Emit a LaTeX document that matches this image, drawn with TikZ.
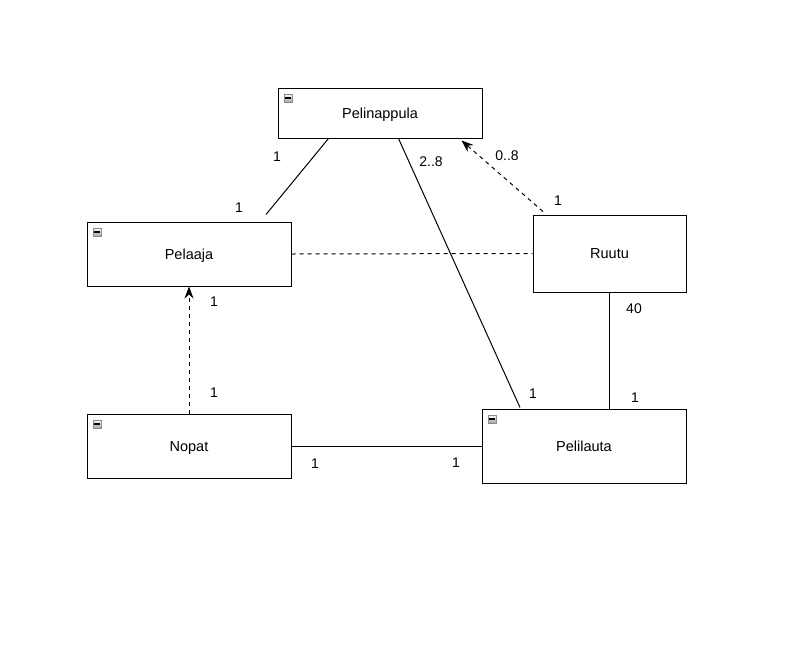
\documentclass[tikz,border=0pt]{standalone}
\usepackage{fontspec}
\setmainfont{Liberation Sans}
\usetikzlibrary{arrows.meta,calc}
\tikzset{
  classbox/.style={draw, line width=1pt, fill=white, inner sep=0pt, text depth=0pt, font=\fontsize{14.5}{17}\selectfont},
  assoc/.style={line width=1pt},
  dep/.style={line width=1pt, dash pattern=on 4pt off 4pt},
  deparrow/.style={dep, -{Stealth[length=12pt,width=9pt,inset=4pt]}},
  mult/.style={font=\fontsize{14}{16}\selectfont, inner sep=0pt},
  iconbox/.style={draw=black!45, line width=0.6pt, top color=white, bottom color=black!35, minimum size=8pt, inner sep=0pt}
}
% small collapse icon in the upper left corner of a class box
\newcommand{\collapseicon}[2]{%
  \node[iconbox, anchor=north west] (#2) at ($(#1.north west)+(6,6)$) {};
  \draw[line width=1.6pt] ($(#2.west)+(1.5,0)$) -- ($(#2.east)+(-1.5,0)$);
}
\begin{document}
\begin{tikzpicture}[x=1pt,y=-1pt]
\useasboundingbox[fill=white] (0,0) rectangle (809,654);

% classes
\node[classbox, minimum width=204pt, minimum height=50pt] (pn) at (380,113) {\raisebox{-1pt}{Pelinappula}};
\node[classbox, minimum width=204pt, minimum height=64pt] (pl) at (189,254) {\raisebox{-1pt}{Pelaaja}};
\node[classbox, minimum width=153pt, minimum height=77pt] (ru) at (609.5,253.5) {\raisebox{-1pt}{Ruutu}};
\node[classbox, minimum width=204pt, minimum height=64pt] (no) at (189,446) {\raisebox{-1pt}{Nopat}};
\node[classbox, minimum width=204pt, minimum height=74pt] (la) at (584,446) {\raisebox{-1pt}{Pelilauta}};

\collapseicon{pn}{pnicon}
\collapseicon{pl}{plicon}
\collapseicon{no}{noicon}
\collapseicon{la}{laicon}

% end points on the box edges
\coordinate (pnA) at ($(pn.south west)+(51,0)$);
\coordinate (plA) at ($(pl.north)+(77,-7)$);
\coordinate (pnB) at ($(pn.south west)+(121,0)$);
\coordinate (laA) at ($(la.north)+(-64,-1)$);
\coordinate (ruA) at ($(ru.north)+(-66.5,-3)$);
\coordinate (pnC) at ($(pn.south east)+(-21,2)$);

% associations
\draw[assoc] (pnA) -- (plA);
\draw[assoc] (pnB) -- (laA);
\draw[assoc] (ru.south) -- (ru.south |- la.north);
\draw[assoc] (no.east) -- (la.west);

% dependencies
\draw[dep] (pl.east) -- (ru.west);
\draw[deparrow] (ruA) -- (pnC);
\draw[deparrow] (no.north) -- (pl.south);

% multiplicities
\node[mult] (m1) at (277,157) {1};
\node[mult] (m2) at (239,208) {1};
\node[mult] (m3) at (431,162) {2..8};
\node[mult] (m4) at (533,394) {1};
\node[mult] (m5) at (507,156) {0..8};
\node[mult] (m6) at (558,201) {1};
\node[mult] (m7) at (634,309) {40};
\node[mult] (m8) at (635,398) {1};
\node[mult] (m9) at (214,302) {1};
\node[mult] (m10) at (214,393) {1};
\node[mult] (m11) at (315,464) {1};
\node[mult] (m12) at (456,463) {1};
\end{tikzpicture}
\end{document}
